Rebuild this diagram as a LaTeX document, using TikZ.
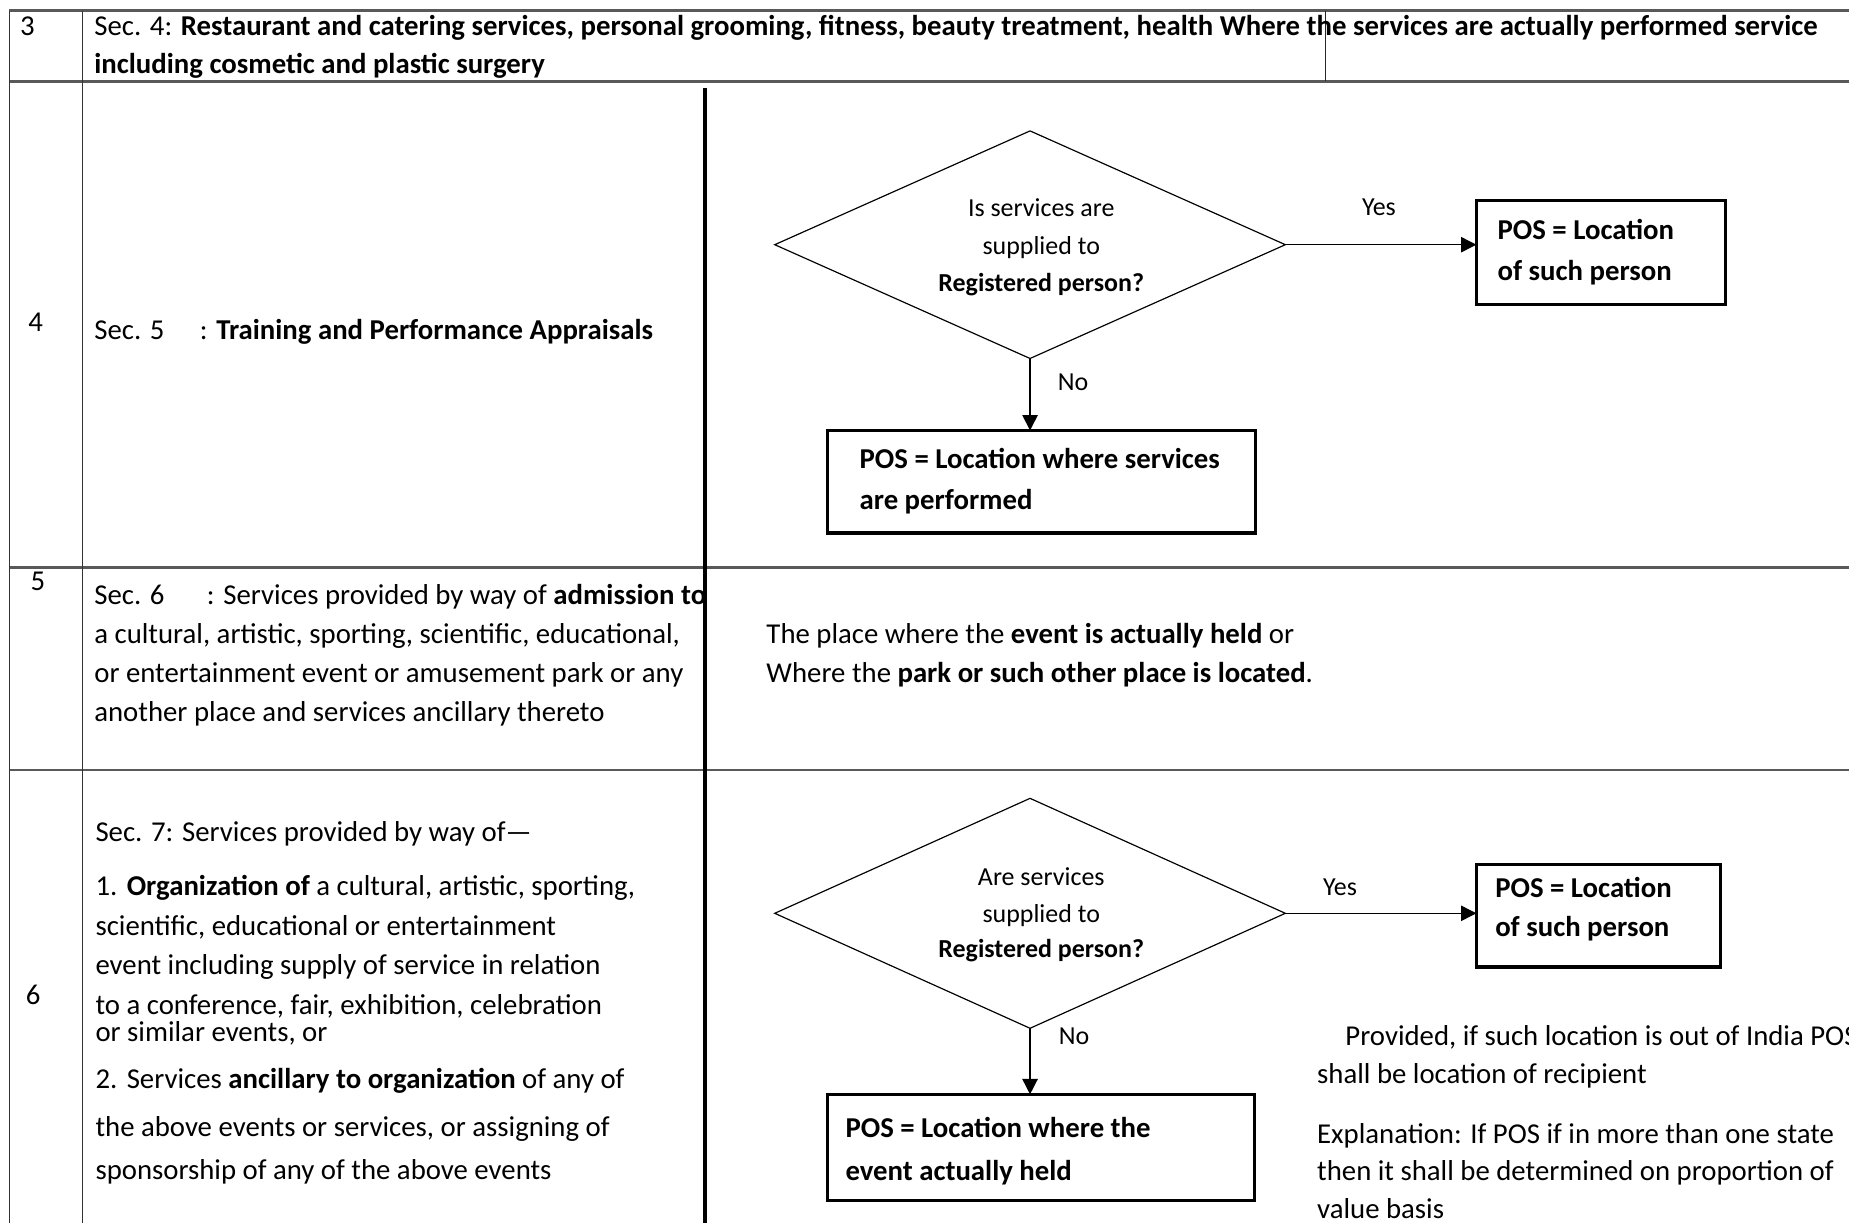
\documentclass[tikz,border=0pt]{standalone}
\usepackage{fontspec}
\setmainfont{Carlito}
\usetikzlibrary{shapes.geometric,arrows.meta}

% one text line: x, baseline y, name, content
\newcommand\tline[4]{\node[txt] (#3) at (#1,#2) {#4};}
\newcommand\sline[4]{\node[small] (#3) at (#1,#2) {#4};}

\begin{document}
\begin{tikzpicture}[x=1pt,y=-1pt,
  every node/.style={inner sep=0pt,outer sep=0pt},
  txt/.style={anchor=base west,font=\fontsize{24.4}{30}\selectfont},
  small/.style={anchor=base west,font=\fontsize{22}{27}\selectfont},
  smallc/.style={anchor=base,font=\fontsize{22}{27}\selectfont},
  rule/.style={draw=black!80,line width=1.2pt},
  rowrule/.style={draw=black!65,line width=2.4pt},
  divider/.style={draw=black,line width=3pt},
  decision/.style={diamond,draw,line width=1pt,minimum width=433pt,minimum height=193pt},
  posbox/.style={draw,line width=2.6pt},
  flow/.style={draw,line width=1.2pt,-{Triangle[length=13pt,width=13pt]}}
]
\useasboundingbox (0,0) rectangle (1568,1037);
\clip (0,0) rectangle (1568,1037);

% ---------- table rules ----------
\draw[rowrule] (8,9) -- (1568,9);
\draw[rowrule] (8,69) -- (1568,69);
\draw[rowrule] (8,481) -- (1568,481);
\draw[rowrule] (8,653) -- (1568,653);
\draw[rule] (8,9) -- (8,1037);
\draw[rule] (70,9) -- (70,1037);
\draw[draw=black!85,line width=1pt] (1124,9) -- (1124,69);
\draw[divider] (598,75) -- (598,1037);

% ---------- row 3 ----------
\tline{17}{30}{n3}{3}
\tline{80}{30}{r3a}{Sec. 4: \textbf{Restaurant and catering services, personal grooming, fitness, beauty treatment, health Where the services are actually performed service}}
\tline{80}{62}{r3b}{\textbf{including cosmetic and plastic surgery}}

% ---------- row 4 ----------
\tline{24}{281}{n4}{4}
\tline{80}{288}{r4a}{Sec. 5\hspace{30pt}: \textbf{Training and Performance Appraisals}}

\node[decision] (d1) at (873.5,207.5) {};
\node[smallc] (d1a) at (883,184) {Is services are};
\node[smallc] (d1b) at (883,216) {supplied to};
\node[smallc] (d1c) at (883,247) {\textbf{Registered person?}};

\node[posbox,minimum width=211pt,minimum height=88pt] (y1) at (1357.5,214) {};
\tline{1270}{203}{y1a}{\textbf{POS = Location}}
\tline{1270}{238}{y1b}{\textbf{of such person}}

\node[posbox,minimum width=363pt,minimum height=87pt] (n1) at (883.5,408.5) {};
\tline{729}{397}{n1a}{\textbf{POS = Location where services}}
\tline{729}{432}{n1b}{\textbf{are performed}}

\draw[flow] (d1.east) -- (d1.east -| y1.west);
\draw[flow] (d1.south) -- (d1.south |- n1.north);
\sline{1155}{183}{yes1}{Yes}
\sline{897}{331}{no1}{No}

% ---------- row 5 ----------
\tline{26}{501}{n5}{5}
\tline{80}{513}{r5a}{Sec. 6\hspace{36pt}: Services provided by way of \textbf{admission to}}
\tline{80}{546}{r5b}{a cultural, artistic, sporting, scientific, educational,}
\tline{80}{579}{r5c}{or entertainment event or amusement park or any}
\tline{80}{612}{r5d}{another place and services ancillary thereto}
\tline{650}{546}{p5a}{The place where the \textbf{event is actually held} or}
\tline{650}{579}{p5b}{Where the \textbf{park or such other place is located}.}

% ---------- row 6 ----------
\tline{22}{852}{n6}{6}
\tline{81}{714}{r6a}{Sec. 7: Services provided by way of---}
\tline{81}{759}{r6b}{1.\hspace{8pt}\textbf{Organization of} a cultural, artistic, sporting,}
\tline{81}{793}{r6c}{scientific, educational or entertainment}
\tline{81}{826}{r6d}{event including supply of service in relation}
\tline{81}{860}{r6e}{to a conference, fair, exhibition, celebration}
\tline{81}{883}{r6f}{or similar events, or}
\tline{81}{923}{r6g}{2.\hspace{8pt}Services \textbf{ancillary to organization} of any of}
\tline{81}{964}{r6h}{the above events or services, or assigning of}
\tline{81}{1000}{r6i}{sponsorship of any of the above events}

\node[decision,minimum height=195pt] (d2) at (873.5,774.5) {};
\node[smallc] (d2a) at (883,751) {Are services};
\node[smallc] (d2b) at (883,782) {supplied to};
\node[smallc] (d2c) at (883,812) {\textbf{Registered person?}};

\node[posbox,minimum width=207pt,minimum height=87pt] (y2) at (1355.5,776.5) {};
\tline{1268}{761}{y2a}{\textbf{POS = Location}}
\tline{1268}{794}{y2b}{\textbf{of such person}}

\node[posbox,minimum width=362pt,minimum height=90pt] (n2) at (883,973) {};
\tline{717}{965}{n2a}{\textbf{POS = Location where the}}
\tline{717}{1001}{n2b}{\textbf{event actually held}}

\draw[flow] (d2.east) -- (d2.east -| y2.west);
\draw[flow] (d2.south) -- (d2.south |- n2.north);
\sline{1122}{759}{yes2}{Yes}
\sline{898}{886}{no2}{No}

\tline{1141}{887}{q1}{Provided, if such location is out of India POS}
\tline{1117}{919}{q2}{shall be location of recipient}
\tline{1117}{970}{q3}{Explanation: If POS if in more than one state}
\tline{1117}{1001}{q4}{then it shall be determined on proportion of}
\tline{1117}{1033}{q5}{value basis}
\end{tikzpicture}
\end{document}
